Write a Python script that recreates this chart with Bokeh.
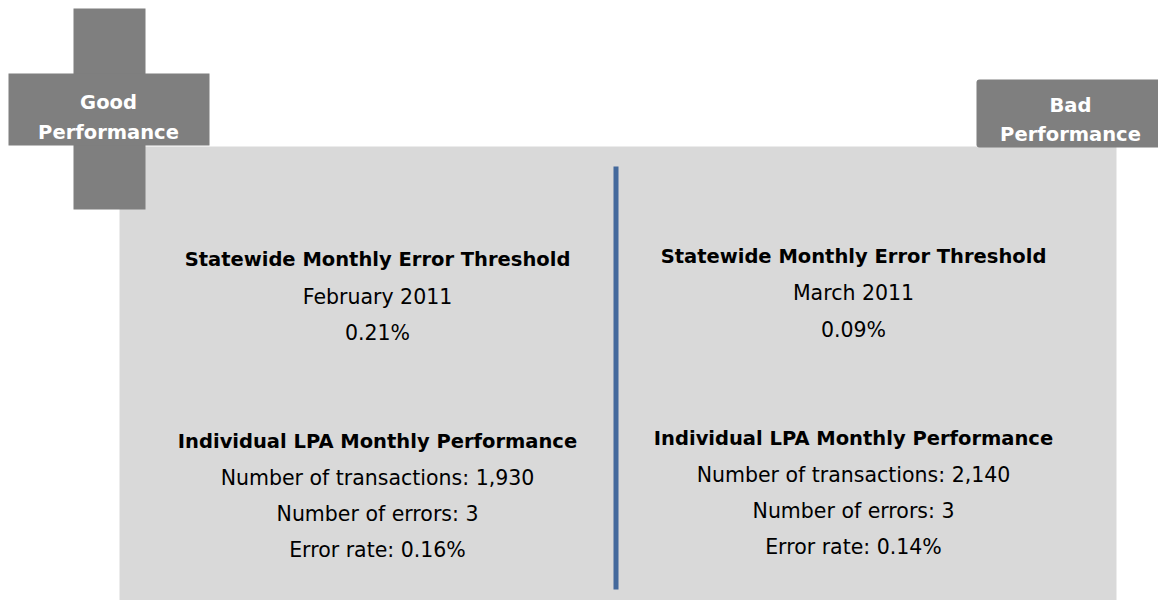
from bokeh.plotting import figure
from bokeh.models import Range1d
from bokeh.core.properties import value
from bokeh.embed import file_html
from bokeh.resources import INLINE

# ---- content ----
badge_good = ["Good", "Performance"]
badge_bad = ["Bad", "Performance"]
threshold_title = "Statewide Monthly Error Threshold"
months = ["February 2011", "March 2011"]
thresholds = ["0.21%", "0.09%"]
perf_title = "Individual LPA Monthly Performance"
transactions = ["1,930", "2,140"]
errors = ["3", "3"]
error_rates = ["0.16%", "0.14%"]

FONT = "DejaVu Sans"
W, H = 1158, 600

p = figure(width=W, height=H, output_backend="svg", toolbar_location=None,
           x_range=Range1d(0, W), y_range=Range1d(H, 0),
           min_border=0, outline_line_color=None, background_fill_color="white")
p.axis.visible = False
p.grid.visible = False

# panel
p.quad(left=119, right=1116, top=146, bottom=610, fill_color="#d9d9d9", line_color=None)
# cross (good)
p.quad(left=[73, 8], right=[145, 209], top=[8, 73], bottom=[209, 145],
       fill_color="#7f7f7f", line_color=None)
# bad box
p.quad(left=976, right=1170, top=79, bottom=147, fill_color="#7f7f7f",
       line_color=None, border_radius=3)
# divider
p.segment(x0=615.5, y0=166, x1=615.5, y1=589, line_color="#44699c", line_width=5)

# badge texts
p.text(x=[108, 108], y=[102, 132], text=badge_good, text_color="white",
       text_font=value(FONT), text_font_style="bold", text_font_size="19.5px",
       text_align="center", text_baseline="alphabetic")
p.text(x=[1070, 1070], y=[105, 134], text=badge_bad, text_color="white",
       text_font=value(FONT), text_font_style="bold", text_font_size="19.5px",
       text_align="center", text_baseline="alphabetic")

cols_x = [377, 853]
title_y = [[259, 441], [256, 438]]
body_y = [[296, 332, 477, 513, 549], [292, 329, 474, 510, 546]]

for i, cx in enumerate(cols_x):
    titles = [threshold_title, perf_title]
    p.text(x=[cx, cx], y=title_y[i], text=titles, text_color="black",
           text_font=value(FONT), text_font_style="bold", text_font_size="19.5px",
           text_align="center", text_baseline="alphabetic")
    body = [months[i], thresholds[i],
            "Number of transactions: " + transactions[i],
            "Number of errors: " + errors[i],
            "Error rate: " + error_rates[i]]
    p.text(x=[cx] * 5, y=body_y[i], text=body, text_color="black",
           text_font=value(FONT), text_font_size="20.5px",
           text_align="center", text_baseline="alphabetic")

open("out.html", "w").write(file_html(p, INLINE))
